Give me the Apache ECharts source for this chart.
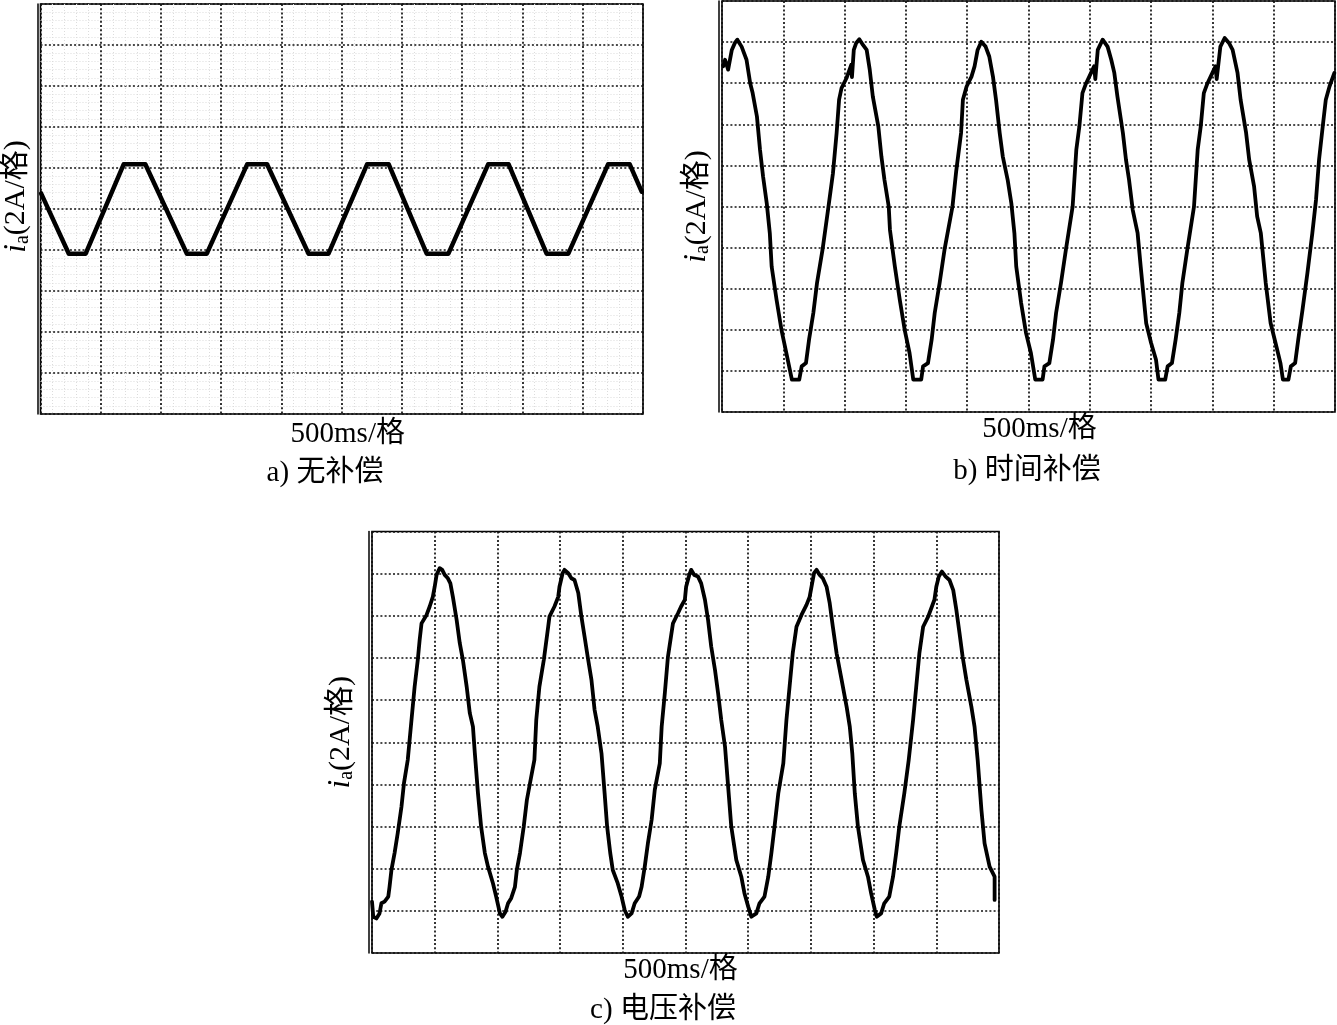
<!DOCTYPE html>
<html><head><meta charset="utf-8">
<script src="https://cdn.jsdelivr.net/npm/echarts@6/dist/echarts.min.js"></script>
<style>html,body{margin:0;padding:0;background:#fff}#c{width:1337px;height:1025px}</style>
</head><body><div id="c"></div>
<script>
// ---- data (x: divisions of 500 ms, y: divisions of 2 A) ----
const yLabel = '{i|i}{s|a}{t|(2A/格)}';
const xLabel = '500ms/格';
const captions = ['a) 无补偿', 'b) 时间补偿', 'c) 电压补偿'];

const waveA = [
  [0.01,0.38],[0.47,-1.09],[0.75,-1.09],[1.38,1.09],[1.74,1.09],
  [2.43,-1.09],[2.76,-1.09],[3.43,1.09],[3.76,1.09],
  [4.45,-1.09],[4.78,-1.09],[5.42,1.09],[5.78,1.09],
  [6.41,-1.09],[6.77,-1.09],[7.43,1.09],[7.77,1.09],
  [8.40,-1.09],[8.76,-1.09],[9.42,1.09],[9.78,1.09],[9.98,0.42]
];

const waveB = [
  [0.02,3.41],[0.05,3.57],[0.10,3.33],[0.16,3.81],[0.21,3.98],[0.25,4.06],[0.32,3.89],[0.35,3.93],[0.40,3.57],[0.46,3.00],[0.50,2.76],[0.57,2.19],[0.62,1.38],[0.67,0.73],[0.73,0.08],[0.78,-0.65],[0.81,-1.46],[0.89,-2.27],[0.97,-3.00],[1.05,-3.57],[1.14,-4.21],[1.26,-4.21],[1.30,-3.89],[1.37,-3.81],[1.42,-3.24],[1.49,-2.59],[1.55,-1.86],[1.64,-1.05],[1.73,-0.08],[1.81,0.81],[1.87,1.79],[1.91,2.60],[1.95,2.88],[2.03,3.12],[2.11,3.45],[2.12,3.15],[2.15,3.81],[2.19,3.98],[2.24,4.07],[2.30,3.93],[2.36,3.81],[2.41,3.33],[2.46,2.68],[2.55,1.95],[2.60,1.22],[2.65,0.65],[2.72,0.00],[2.74,-0.57],[2.82,-1.46],[2.90,-2.27],[2.98,-3.00],[3.06,-3.57],[3.12,-4.21],[3.25,-4.21],[3.28,-3.89],[3.36,-3.81],[3.42,-3.24],[3.47,-2.59],[3.55,-1.86],[3.63,-1.05],[3.76,0.00],[3.82,0.85],[3.90,1.79],[3.93,2.60],[3.99,2.92],[4.07,3.16],[4.12,3.41],[4.17,3.81],[4.23,4.01],[4.30,3.89],[4.36,3.65],[4.42,3.16],[4.47,2.60],[4.53,1.79],[4.58,1.22],[4.66,0.65],[4.72,0.08],[4.77,-0.65],[4.80,-1.46],[4.88,-2.35],[4.96,-3.08],[5.04,-3.57],[5.11,-4.21],[5.23,-4.21],[5.26,-3.89],[5.34,-3.81],[5.40,-3.24],[5.45,-2.59],[5.53,-1.86],[5.61,-1.05],[5.72,0.00],[5.78,1.38],[5.83,1.95],[5.88,2.76],[5.94,3.00],[6.02,3.25],[6.07,3.41],[6.09,3.10],[6.13,3.81],[6.21,4.06],[6.29,3.89],[6.35,3.57],[6.40,3.25],[6.45,2.68],[6.54,1.79],[6.59,1.14],[6.64,0.65],[6.70,-0.08],[6.78,-0.65],[6.83,-1.46],[6.92,-2.84],[7.00,-3.32],[7.08,-3.73],[7.12,-4.21],[7.23,-4.21],[7.27,-3.89],[7.34,-3.81],[7.40,-3.24],[7.46,-2.59],[7.51,-1.86],[7.59,-1.05],[7.70,0.00],[7.76,1.38],[7.81,1.95],[7.86,2.76],[7.92,3.00],[8.00,3.25],[8.05,3.41],[8.07,3.10],[8.13,3.89],[8.20,4.10],[8.27,3.98],[8.33,3.81],[8.41,3.25],[8.46,2.60],[8.55,1.79],[8.60,1.14],[8.68,0.49],[8.73,-0.24],[8.79,-0.65],[8.87,-1.86],[8.95,-2.84],[9.03,-3.32],[9.11,-3.81],[9.15,-4.21],[9.24,-4.21],[9.28,-3.89],[9.35,-3.81],[9.40,-3.24],[9.47,-2.51],[9.55,-1.62],[9.63,-0.65],[9.69,0.16],[9.74,1.14],[9.80,1.95],[9.85,2.60],[9.91,2.92],[9.99,3.25]
];

const waveC = [
  [0.00,-3.78],[0.02,-4.14],[0.07,-4.18],[0.12,-4.06],[0.15,-3.82],[0.20,-3.78],[0.26,-3.66],[0.28,-3.43],[0.31,-3.03],[0.36,-2.63],[0.41,-2.16],[0.47,-1.53],[0.51,-0.97],[0.57,-0.42],[0.63,0.53],[0.68,1.32],[0.73,1.95],[0.76,2.43],[0.79,2.82],[0.87,3.02],[0.92,3.22],[0.97,3.45],[1.00,3.69],[1.03,3.97],[1.08,4.13],[1.12,4.09],[1.16,3.97],[1.21,3.89],[1.25,3.77],[1.29,3.45],[1.35,2.90],[1.40,2.35],[1.45,1.95],[1.51,1.32],[1.56,0.69],[1.61,0.37],[1.64,-0.26],[1.69,-1.21],[1.74,-2.00],[1.80,-2.63],[1.85,-2.95],[1.93,-3.35],[1.98,-3.66],[2.04,-4.06],[2.08,-4.14],[2.13,-4.02],[2.17,-3.82],[2.22,-3.70],[2.28,-3.43],[2.31,-3.03],[2.36,-2.63],[2.42,-2.00],[2.47,-1.37],[2.53,-0.89],[2.59,-0.42],[2.62,0.53],[2.67,1.32],[2.74,1.95],[2.81,2.74],[2.83,2.98],[2.91,3.22],[2.97,3.45],[2.99,3.69],[3.04,4.01],[3.07,4.09],[3.13,4.01],[3.18,3.89],[3.23,3.85],[3.29,3.54],[3.34,2.98],[3.39,2.51],[3.44,2.03],[3.50,1.48],[3.55,0.77],[3.60,0.37],[3.66,-0.26],[3.71,-1.21],[3.75,-2.00],[3.80,-2.63],[3.84,-3.03],[3.92,-3.35],[3.98,-3.66],[4.03,-3.98],[4.08,-4.14],[4.14,-4.06],[4.19,-3.82],[4.26,-3.66],[4.30,-3.43],[4.35,-2.95],[4.40,-2.40],[4.46,-1.84],[4.51,-1.13],[4.59,-0.50],[4.62,0.37],[4.67,1.16],[4.72,2.03],[4.80,2.82],[4.88,3.06],[4.93,3.22],[4.99,3.38],[5.01,3.69],[5.06,3.97],[5.09,4.09],[5.14,3.97],[5.20,3.93],[5.25,3.77],[5.31,3.38],[5.36,2.90],[5.41,2.27],[5.47,1.72],[5.52,1.16],[5.57,0.53],[5.63,-0.10],[5.68,-1.05],[5.73,-2.00],[5.81,-2.79],[5.89,-3.19],[5.94,-3.58],[6.00,-3.90],[6.05,-4.14],[6.13,-4.06],[6.18,-3.82],[6.26,-3.66],[6.32,-3.19],[6.37,-2.63],[6.42,-2.00],[6.48,-1.21],[6.56,-0.50],[6.61,0.53],[6.66,1.32],[6.71,2.11],[6.77,2.74],[6.85,3.02],[6.93,3.26],[6.98,3.45],[7.01,3.69],[7.05,4.01],[7.09,4.09],[7.14,3.97],[7.19,3.89],[7.25,3.69],[7.30,3.30],[7.35,2.74],[7.41,2.11],[7.49,1.48],[7.57,0.84],[7.62,0.37],[7.66,-0.26],[7.70,-1.21],[7.75,-2.00],[7.83,-2.79],[7.91,-3.19],[7.96,-3.58],[8.02,-3.98],[8.05,-4.14],[8.12,-4.06],[8.17,-3.82],[8.25,-3.66],[8.31,-3.19],[8.36,-2.63],[8.41,-2.00],[8.49,-1.21],[8.56,-0.42],[8.63,0.53],[8.68,1.32],[8.73,2.11],[8.79,2.74],[8.87,2.98],[8.92,3.18],[8.97,3.38],[9.00,3.69],[9.04,3.93],[9.09,4.05],[9.15,3.93],[9.21,3.85],[9.27,3.61],[9.32,3.14],[9.37,2.59],[9.42,2.03],[9.48,1.48],[9.56,0.84],[9.61,0.37],[9.66,-0.42],[9.72,-1.61],[9.77,-2.40],[9.85,-2.95],[9.93,-3.19],[9.93,-3.74]
];

// ---- layout / style ----
const FONT = "'Liberation Serif','Times New Roman','Noto Sans CJK SC',serif";
const panels = [
  {grid:{left:40, top:4, width:603, height:410}, data:waveA, lw:4.5, bgDots:true,
   xPad:[0,0,0,12], xGap:6, yPad:[0,0,0,25], yGap:5, cap:[325,473]},
  {grid:{left:722, top:1, width:613, height:411}, data:waveB, lw:3.8, bgDots:false,
   xPad:[0,0,0,22], xGap:3, yPad:[0,0,0,0], yGap:6, cap:[1027,471]},
  {grid:{left:372, top:531.5, width:627, height:421.5}, data:waveC, lw:3.8, bgDots:false,
   xPad:[0,10,0,0], xGap:3, yPad:[0,0,0,20], yGap:12, cap:[663,1010]}
];

const dotted = {type:[2,2.2], color:'#111', width:1.7};
const faint = {type:[1,2], color:'#dcdcdc', width:1};

const option = {
  animation:false,
  backgroundColor:'#fff',
  grid: panels.map(p => Object.assign({show:true, borderColor:'#000', borderWidth:1.6, backgroundColor:'transparent'}, p.grid)),
  xAxis: panels.map((p,k) => ({
    type:'value', gridIndex:k, min:0, max:10, interval:1,
    axisLine:{show:false}, axisTick:{show:false}, axisLabel:{show:false},
    splitLine:{show:true, lineStyle:dotted},
    minorTick:{show:false, splitNumber:5},
    minorSplitLine:{show:p.bgDots, lineStyle:faint},
    name:xLabel, nameLocation:'middle', nameGap:p.xGap,
    nameTextStyle:{fontFamily:FONT, fontSize:29, color:'#000', padding:p.xPad, verticalAlign:'top'}
  })),
  yAxis: panels.map((p,k) => ({
    type:'value', gridIndex:k, min:-5, max:5, interval:1, offset:3,
    axisLine:{show:true, onZero:false, lineStyle:{color:'#000', width:1.5}},
    axisTick:{show:false}, axisLabel:{show:false},
    splitLine:{show:true, lineStyle:dotted},
    minorTick:{show:false, splitNumber:5},
    minorSplitLine:{show:p.bgDots, lineStyle:faint},
    name:yLabel, nameLocation:'middle', nameRotate:90, nameGap:p.yGap,
    nameTextStyle:{
      fontFamily:FONT, fontSize:30, color:'#000', padding:p.yPad,
      rich:{
        i:{fontFamily:FONT, fontSize:31, fontStyle:'italic', color:'#000', lineHeight:32},
        s:{fontFamily:FONT, fontSize:20, color:'#000', lineHeight:20, verticalAlign:'bottom'},
        t:{fontFamily:FONT, fontSize:30, color:'#000', lineHeight:32}
      }
    }
  })),
  series: panels.map((p,k) => ({
    type:'line', xAxisIndex:k, yAxisIndex:k, data:p.data,
    showSymbol:false, symbol:'none', smooth:false,
    lineStyle:{color:'#000', width:p.lw, join:'round', cap:'round'},
    z:5
  })),
  graphic: panels.map((p,k) => ({
    type:'text', x:p.cap[0], y:p.cap[1],
    style:{text:captions[k], fontFamily:FONT, fontSize:29, fill:'#000', align:'center', verticalAlign:'middle'}
  }))
};

const chart = echarts.init(document.getElementById('c'), null, {renderer:'canvas'});
chart.setOption(option);
</script>
</body></html>
